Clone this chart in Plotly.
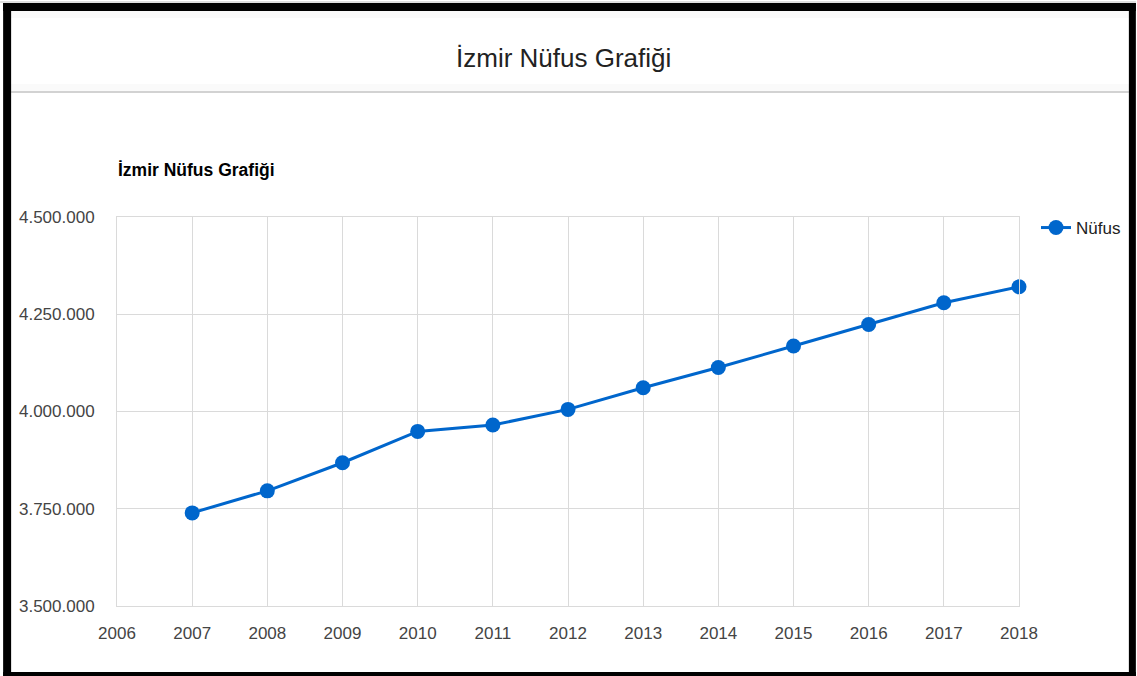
import plotly.graph_objects as go

years = [2007, 2008, 2009, 2010, 2011, 2012, 2013, 2014, 2015, 2016, 2017, 2018]
population = [3739353, 3795978, 3868308, 3948848, 3965232, 4005459,
              4061074, 4113072, 4168415, 4223545, 4279677, 4320519]
series_name = "Nüfus"
main_title = "İzmir Nüfus Grafiği"
sub_title = "İzmir Nüfus Grafiği"

W, H = 1137, 676
L, R, T, B = 117, 117, 217, 70
PW, PH = W - L - R, H - T - B


def px(x):
    return (x - L) / PW


def py(y):
    return (H - B - y) / PH


BLUE = "#0066cc"
GRID = "#dadada"
FONT = "Arial, Liberation Sans, sans-serif"

fig = go.Figure()
fig.add_trace(go.Scatter(
    x=years, y=population, name=series_name, mode="lines+markers",
    line=dict(color=BLUE, width=3),
    marker=dict(color=BLUE, size=15),
    cliponaxis=False,
))

shapes = []
shapes.append(dict(type="rect", xref="paper", yref="paper", layer="below",
                   x0=px(11), x1=px(1130), y0=py(92), y1=py(84),
                   fillcolor="#fafafa", line=dict(width=0)))
shapes.append(dict(type="rect", xref="paper", yref="paper", layer="below",
                   x0=px(11), x1=px(1130), y0=py(18), y1=py(11),
                   fillcolor="#fafafa", line=dict(width=0)))
shapes.append(dict(type="line", xref="paper", yref="paper",
                   x0=px(11), x1=px(1130), y0=py(92), y1=py(92),
                   line=dict(color="#d2d2d2", width=2)))
for (x0, x1, y0, y1) in [(3, 1137, 3, 11), (3, 11, 3, 676),
                         (1130, 1137, 3, 676), (3, 1137, 672, 676)]:
    shapes.append(dict(type="rect", xref="paper", yref="paper",
                       x0=px(x0), x1=px(x1), y0=py(y1), y1=py(y0),
                       fillcolor="#000000", line=dict(width=0)))
shapes.append(dict(type="line", xref="paper", yref="paper",
                   x0=px(0), x1=px(1137), y0=py(2), y1=py(2),
                   line=dict(color="#bbbbbb", width=1)))

annotations = [
    dict(text=main_title, xref="paper", yref="paper", x=px(564), y=py(58),
         xanchor="center", yanchor="middle", showarrow=False,
         font=dict(family=FONT, size=26, color="#222222")),
    dict(text="<b>" + sub_title + "</b>", xref="paper", yref="paper",
         x=px(116), y=py(170), xanchor="left", yanchor="middle", showarrow=False,
         font=dict(family=FONT, size=17.5, color="#000000")),
]

fig.update_layout(
    width=W, height=H,
    margin=dict(l=L, r=R, t=T, b=B),
    paper_bgcolor="white", plot_bgcolor="white",
    separators=",.",
    font=dict(family=FONT, size=17, color="#444444"),
    shapes=shapes,
    annotations=annotations,
    showlegend=True,
    legend=dict(x=px(1036), y=py(228), xanchor="left", yanchor="middle",
                bgcolor="rgba(0,0,0,0)", font=dict(family=FONT, size=17, color="#222222"),
                itemwidth=30),
    xaxis=dict(range=[2006, 2018], dtick=1, tick0=2006, tickformat="d",
               showgrid=True, gridcolor=GRID, gridwidth=1,
               showline=True, linecolor=GRID, mirror=True, zeroline=False,
               ticks="", ticklabelstandoff=12,
               tickfont=dict(family=FONT, size=17, color="#444444")),
    yaxis=dict(range=[3500000, 4500000], dtick=250000, tick0=3500000,
               tickformat=",d",
               showgrid=True, gridcolor=GRID, gridwidth=1,
               showline=True, linecolor=GRID, mirror=True, zeroline=False,
               ticks="", ticklabelstandoff=18,
               tickfont=dict(family=FONT, size=17, color="#444444")),
)

fig.write_html(
    "out.html",
    config={"displayModeBar": False},
    post_script="document.body.style.margin='0';document.body.style.overflow='hidden';",
)
